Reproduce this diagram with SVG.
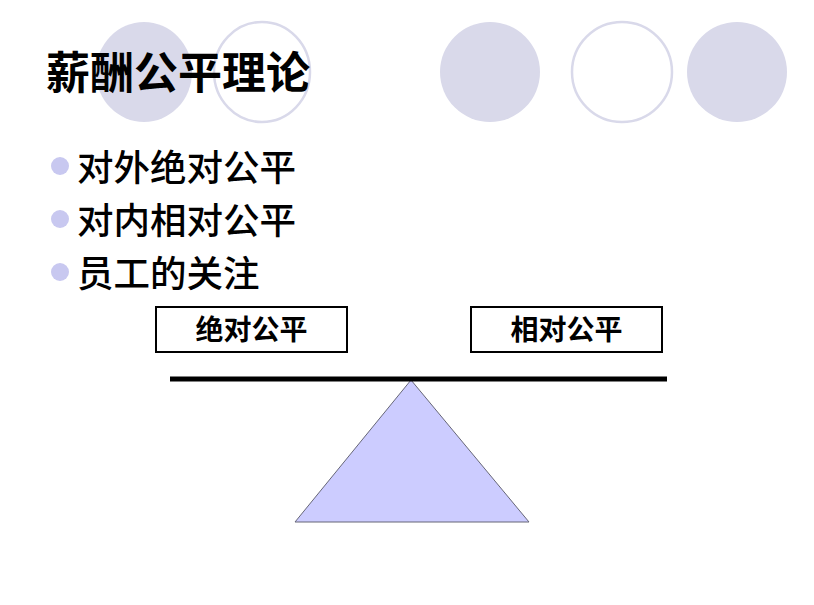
<svg xmlns="http://www.w3.org/2000/svg" width="814" height="605" viewBox="0 0 814 605">
<style>
.deco-f{fill:#D9D9EA;}
.deco-o{fill:#FFFFFF;stroke:#D9D9EA;stroke-width:2.5;}
.title{font-family:"Liberation Sans","Noto Sans CJK SC",sans-serif;font-weight:bold;font-size:44px;fill:#000;}
.bul{font-family:"Liberation Sans","Noto Sans CJK SC",sans-serif;font-weight:500;font-size:36.5px;fill:#000;}
.dot{fill:#C8C8F0;}
.box{fill:#FFFFFF;stroke:#000;stroke-width:2;}
.lbl{font-family:"Liberation Sans","Noto Sans CJK SC",sans-serif;font-weight:bold;font-size:28px;fill:#000;text-anchor:middle;}
</style>
<rect width="814" height="605" fill="#FFFFFF"/>
<g id="decor">
<ellipse class="deco-f" cx="144" cy="72" rx="48" ry="50"/>
<ellipse class="deco-o" cx="262" cy="72" rx="48" ry="50"/>
<ellipse class="deco-f" cx="490" cy="72" rx="50" ry="50"/>
<ellipse class="deco-o" cx="622" cy="72" rx="50" ry="50"/>
<ellipse class="deco-f" cx="737" cy="72" rx="50" ry="50"/>
</g>
<g id="title"><text class="title" x="46" y="89">薪酬公平理论</text></g>
<g id="bullets">
<circle class="dot" cx="60" cy="166" r="9"/>
<text class="bul" x="77" y="181">对外绝对公平</text>
<circle class="dot" cx="60" cy="219" r="9"/>
<text class="bul" x="77" y="234">对内相对公平</text>
<circle class="dot" cx="60" cy="272" r="9"/>
<text class="bul" x="77" y="287">员工的关注</text>
</g>
<g id="box-left">
<rect class="box" x="156" y="307" width="191" height="45"/>
<text class="lbl" x="251.5" y="339.5">绝对公平</text>
</g>
<g id="box-right">
<rect class="box" x="471" y="307" width="191" height="45"/>
<text class="lbl" x="566.5" y="339.5">相对公平</text>
</g>
<g id="fulcrum">
<polygon points="411,380 295,522 529,522" fill="#CCCCFF" stroke="#666677" stroke-width="1"/>
</g>
<g id="connectors">
<line x1="170" y1="379" x2="667" y2="379" stroke="#000" stroke-width="5"/>
</g>
</svg>
